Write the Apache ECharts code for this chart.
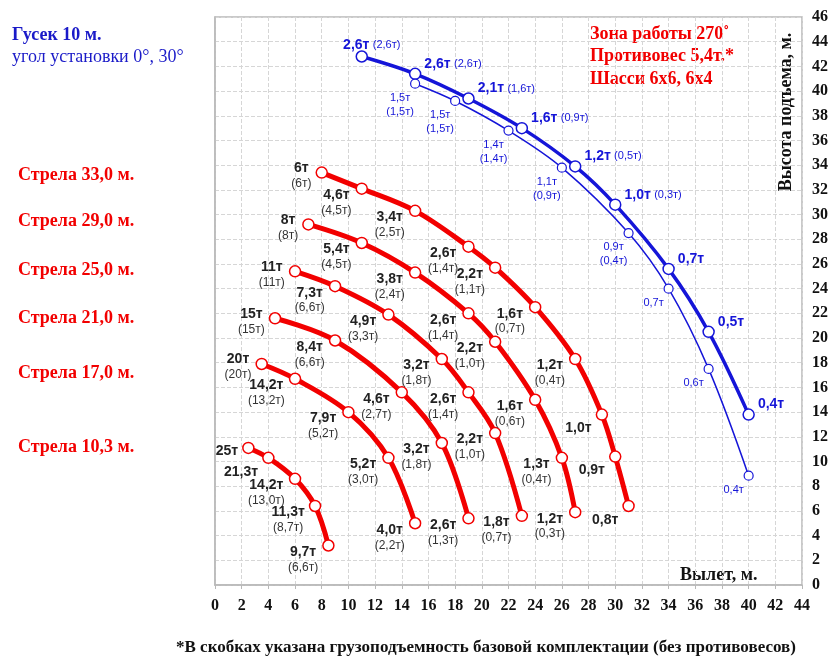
<!DOCTYPE html>
<html>
<head>
<meta charset="utf-8">
<script src="https://cdn.jsdelivr.net/npm/echarts@6/dist/echarts.min.js"></script>
<style>
html, body { margin: 0; padding: 0; background: #fff; }
#chart { width: 835px; height: 656px; }
</style>
</head>
<body>
<div id="chart"></div>
<script>
// Вылет (м) / высота подъема (м) / грузоподъемность по точкам
var xTicks = [0, 2, 4, 6, 8, 10, 12, 14, 16, 18, 20, 22, 24, 26, 28, 30, 32, 34, 36, 38, 40, 42, 44];
var yTicks = [0, 2, 4, 6, 8, 10, 12, 14, 16, 18, 20, 22, 24, 26, 28, 30, 32, 34, 36, 38, 40, 42, 44, 46];

var boom33X = [8, 11, 15, 19, 21, 24, 27, 29, 30, 31];
var boom33Y = [33.4, 32.1, 30.3, 27.4, 25.7, 22.5, 18.3, 13.8, 10.4, 6.4];
var boom33Load = ['6т', '4,6т', '3,4т', '2,6т', '2,2т', '1,6т', '1,2т', '1,0т', '0,9т', '0,8т'];
var boom33Base = ['6т', '4,5т', '2,5т', '1,4т', '1,1т', '0,7т', '0,4т', '', '', ''];

var boom29X = [7, 11, 15, 19, 21, 24, 26, 27];
var boom29Y = [29.2, 27.7, 25.3, 22.0, 19.7, 15.0, 10.3, 5.9];
var boom29Load = ['8т', '5,4т', '3,8т', '2,6т', '2,2т', '1,6т', '1,3т', '1,2т'];
var boom29Base = ['8т', '4,5т', '2,4т', '1,4т', '1,0т', '0,6т', '0,4т', '0,3т'];

var boom25X = [6, 9, 13, 17, 19, 21, 23];
var boom25Y = [25.4, 24.2, 21.9, 18.3, 15.6, 12.3, 5.6];
var boom25Load = ['11т', '7,3т', '4,9т', '3,2т', '2,6т', '2,2т', '1,8т'];
var boom25Base = ['11т', '6,6т', '3,3т', '1,8т', '1,4т', '1,0т', '0,7т'];

var boom21X = [4.5, 9, 14, 17, 19];
var boom21Y = [21.6, 19.8, 15.6, 11.5, 5.4];
var boom21Load = ['15т', '8,4т', '4,6т', '3,2т', '2,6т'];
var boom21Base = ['15т', '6,6т', '2,7т', '1,8т', '1,3т'];

var boom17X = [3.5, 6, 10, 13, 15];
var boom17Y = [17.9, 16.7, 14.0, 10.3, 5.0];
var boom17Load = ['20т', '14,2т', '7,9т', '5,2т', '4,0т'];
var boom17Base = ['20т', '13,2т', '5,2т', '3,0т', '2,2т'];

var boom10X = [2.5, 4, 6, 7.5, 8.5];
var boom10Y = [11.1, 10.3, 8.6, 6.4, 3.2];
var boom10Load = ['25т', '21,3т', '14,2т', '11,3т', '9,7т'];
var boom10Base = ['', '', '13,0т', '8,7т', '6,6т'];

var jib0X = [11, 15, 19, 23, 27, 30, 34, 37, 40];
var jib0Y = [42.8, 41.4, 39.4, 37.0, 33.9, 30.8, 25.6, 20.5, 13.8];
var jib0Load = ['2,6т', '2,6т', '2,1т', '1,6т', '1,2т', '1,0т', '0,7т', '0,5т', '0,4т'];
var jib0Base = ['2,6т', '2,6т', '1,6т', '0,9т', '0,5т', '0,3т', '', '', ''];

var jib30X = [15, 18, 22, 26, 31, 34, 37, 40];
var jib30Y = [40.6, 39.2, 36.8, 33.8, 28.5, 24.0, 17.5, 8.85];
var jib30Load = ['1,5т', '1,5т', '1,4т', '1,1т', '0,9т', '0,7т', '0,6т', '0,4т'];
var jib30Base = ['1,5т', '1,5т', '1,4т', '0,9т', '0,4т', '', '', ''];

var RED = '#f20000';
var BLUE = '#1515d8';
var SERIF = '"Liberation Serif", "Times New Roman", serif';
var SANS = '"Liberation Sans", Arial, sans-serif';

function boomSeries(name, xs, ys, loads, bases) {
	var data = xs.map(function (x, i) {
		return {
			value: [x, ys[i]],
			label: { offset: i === 0 ? [0, 3] : [0, 14] }
		};
	});
	return {
		name: name,
		type: 'line',
		smooth: 0.35,
		data: data,
		symbol: 'circle',
		symbolSize: 11,
		lineStyle: { color: RED, width: 5 },
		itemStyle: { color: '#fff', borderColor: RED, borderWidth: 1.5 },
		label: {
			show: true,
			position: 'left',
			distance: 4,
			formatter: function (p) {
				var b = bases[p.dataIndex];
				return '{a|' + loads[p.dataIndex] + '}' + (b ? '\n{b|(' + b + ')}' : '');
			},
			rich: {
				a: { fontFamily: SANS, fontWeight: 'bold', fontSize: 14, color: '#222', align: 'center', lineHeight: 16 },
				b: { fontFamily: SANS, fontSize: 12, color: '#333', align: 'center', lineHeight: 15 }
			}
		},
		z: 3
	};
}

var series = [
	boomSeries('Стрела 33,0 м.', boom33X, boom33Y, boom33Load, boom33Base),
	boomSeries('Стрела 29,0 м.', boom29X, boom29Y, boom29Load, boom29Base),
	boomSeries('Стрела 25,0 м.', boom25X, boom25Y, boom25Load, boom25Base),
	boomSeries('Стрела 21,0 м.', boom21X, boom21Y, boom21Load, boom21Base),
	boomSeries('Стрела 17,0 м.', boom17X, boom17Y, boom17Load, boom17Base),
	boomSeries('Стрела 10,3 м.', boom10X, boom10Y, boom10Load, boom10Base),
	{
		name: 'Гусек 0°',
		type: 'line',
		smooth: 0.35,
		data: jib0X.map(function (x, i) {
			return { value: [x, jib0Y[i]], label: i === 0 ? { position: 'top', distance: 0, offset: [10, 2] } : {} };
		}),
		symbol: 'circle',
		symbolSize: 11,
		lineStyle: { color: BLUE, width: 3.5 },
		itemStyle: { color: '#fff', borderColor: BLUE, borderWidth: 1.5 },
		label: {
			show: true,
			position: 'right',
			distance: 3,
			offset: [0, -10],
			formatter: function (p) {
				var b = jib0Base[p.dataIndex];
				return '{a|' + jib0Load[p.dataIndex] + '}' + (b ? ' {b|(' + b + ')}' : '');
			},
			rich: {
				a: { fontFamily: SANS, fontWeight: 'bold', fontSize: 14, color: BLUE },
				b: { fontFamily: SANS, fontSize: 11, color: BLUE }
			}
		},
		z: 4
	},
	{
		name: 'Гусек 30°',
		type: 'line',
		smooth: 0.35,
		data: jib30X.map(function (x, i) { return [x, jib30Y[i]]; }),
		symbol: 'circle',
		symbolSize: 9,
		lineStyle: { color: BLUE, width: 1.5 },
		itemStyle: { color: '#fff', borderColor: BLUE, borderWidth: 1.2 },
		label: {
			show: true,
			position: 'bottom',
			distance: 2,
			offset: [-15, 0],
			formatter: function (p) {
				var b = jib30Base[p.dataIndex];
				return '{a|' + jib30Load[p.dataIndex] + '}' + (b ? '\n{a|(' + b + ')}' : '');
			},
			rich: {
				a: { fontFamily: SANS, fontSize: 11, color: BLUE, align: 'center', lineHeight: 14 }
			}
		},
		z: 4
	}
];

var myChart = echarts.init(document.getElementById('chart'));
var option = {
	backgroundColor: '#fff',
	animation: false,
	grid: {
		left: 215,
		right: 33,
		top: 17,
		bottom: 71,
		show: true,
		borderColor: '#b8b8b8',
		borderWidth: 1.5
	},
	xAxis: {
		type: 'value',
		min: 0,
		max: 44,
		interval: 2,
		axisLine: { show: true, lineStyle: { color: '#b8b8b8', width: 1.5 } },
		axisTick: { show: true, length: 4, lineStyle: { color: '#b8b8b8' } },
		axisLabel: {
			margin: 13,
			fontFamily: SERIF,
			fontWeight: 'bold',
			fontSize: 16,
			color: '#111',
			formatter: function (v) { return xTicks.indexOf(v) >= 0 ? String(v) : ''; }
		},
		splitLine: { show: true, lineStyle: { color: '#d6d6d6', type: [4, 2], width: 1 } }
	},
	yAxis: {
		type: 'value',
		position: 'right',
		min: 0,
		max: 46,
		interval: 2,
		axisLine: { show: true, lineStyle: { color: '#b8b8b8', width: 1.5 } },
		axisTick: { show: false },
		axisLabel: {
			margin: 10,
			fontFamily: SERIF,
			fontWeight: 'bold',
			fontSize: 16,
			color: '#111',
			formatter: function (v) { return yTicks.indexOf(v) >= 0 ? String(v) : ''; }
		},
		splitLine: { show: true, lineStyle: { color: '#d6d6d6', type: [4, 2], width: 1 } }
	},
	graphic: [
		{ type: 'text', left: 12, top: 26, style: { text: 'Гусек 10 м.', font: 'bold 18px ' + SERIF, fill: '#1a1ac8' } },
		{ type: 'text', left: 12, top: 48, style: { text: 'угол установки 0°, 30°', font: '18px ' + SERIF, fill: '#1a1ac8' } },
		{ type: 'text', left: 18, top: 166, style: { text: 'Стрела 33,0 м.', font: 'bold 18px ' + SERIF, fill: RED } },
		{ type: 'text', left: 18, top: 212, style: { text: 'Стрела 29,0 м.', font: 'bold 18px ' + SERIF, fill: RED } },
		{ type: 'text', left: 18, top: 261, style: { text: 'Стрела 25,0 м.', font: 'bold 18px ' + SERIF, fill: RED } },
		{ type: 'text', left: 18, top: 309, style: { text: 'Стрела 21,0 м.', font: 'bold 18px ' + SERIF, fill: RED } },
		{ type: 'text', left: 18, top: 364, style: { text: 'Стрела 17,0 м.', font: 'bold 18px ' + SERIF, fill: RED } },
		{ type: 'text', left: 18, top: 438, style: { text: 'Стрела 10,3 м.', font: 'bold 18px ' + SERIF, fill: RED } },
		{ type: 'text', left: 590, top: 25, style: { text: 'Зона работы 270˚', font: 'bold 18px ' + SERIF, fill: RED } },
		{ type: 'text', left: 590, top: 47, style: { text: 'Противовес 5,4т.*', font: 'bold 18px ' + SERIF, fill: RED } },
		{ type: 'text', left: 590, top: 70, style: { text: 'Шасси 6х6, 6х4', font: 'bold 18px ' + SERIF, fill: RED } },
		{
			type: 'text', x: 786, y: 112, rotation: Math.PI / 2,
			style: { text: 'Высота подъема, м.', font: 'bold 18px ' + SERIF, fill: '#111', align: 'center', verticalAlign: 'middle' }
		},
		{ type: 'text', left: 680, top: 566, style: { text: 'Вылет, м.', font: 'bold 18px ' + SERIF, fill: '#111' } },
		{
			type: 'text', left: 176, top: 639,
			style: { text: '*В скобках указана грузоподъемность базовой комплектации (без противовесов)', font: 'bold 17px ' + SERIF, fill: '#111' }
		}
	],
	series: series
};
myChart.setOption(option, true);
</script>
</body>
</html>
